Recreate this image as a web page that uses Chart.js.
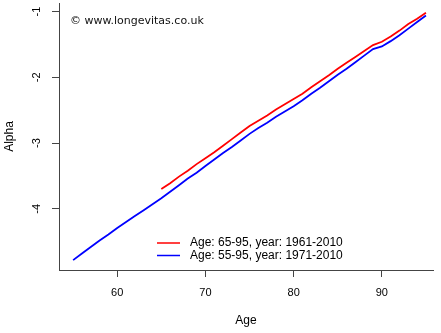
<!DOCTYPE html>
<html>
<head>
<meta charset="utf-8">
<script src="https://cdn.jsdelivr.net/npm/chart.js@4"></script>
<style>
  html, body { margin: 0; padding: 0; background: #fff; }
  #wrap { width: 441px; height: 333px; }
</style>
</head>
<body>
<div id="wrap"><canvas id="chart" width="441" height="333"></canvas></div>
<script>
const agesA = [65, 66, 67, 68, 69, 70, 71, 72, 73, 74, 75, 76, 77, 78, 79, 80,
  81, 82, 83, 84, 85, 86, 87, 88, 89, 90, 91, 92, 93, 94, 95];
const alphaA = [-3.70, -3.61, -3.51, -3.42, -3.32, -3.23, -3.14, -3.04, -2.94, -2.84, -2.74,
  -2.66, -2.58, -2.49, -2.41, -2.33, -2.25, -2.15, -2.06, -1.97, -1.87, -1.78,
  -1.69, -1.60, -1.51, -1.46, -1.38, -1.29, -1.19, -1.11, -1.02];

const agesB = [55, 56, 57, 58, 59, 60, 61, 62, 63, 64, 65, 66, 67, 68, 69, 70, 71, 72, 73, 74, 75,
  76, 77, 78, 79, 80, 81, 82, 83, 84, 85, 86, 87, 88, 89, 90, 91, 92, 93, 94, 95];
const alphaB = [-4.78, -4.68, -4.58, -4.48, -4.39, -4.29, -4.20, -4.11, -4.02, -3.93, -3.84,
  -3.74, -3.64, -3.54, -3.45, -3.35, -3.25, -3.15, -3.06, -2.96, -2.86,
  -2.77, -2.69, -2.60, -2.52, -2.44, -2.35, -2.25, -2.16, -2.06, -1.96, -1.87,
  -1.77, -1.67, -1.57, -1.53, -1.45, -1.36, -1.26, -1.16, -1.06];

const labelA = 'Age: 65-95, year: 1961-2010';
const labelB = 'Age: 55-95, year: 1971-2010';
const xTicks = [60, 70, 80, 90];
const yTicks = [-4, -3, -2, -1];

const axisColor = '#444';
const font = '"Liberation Sans", Arial, sans-serif';

const extras = {
  id: 'extras',
  afterDraw(chart) {
    const ctx = chart.ctx;
    const area = chart.chartArea;
    const y = chart.scales.y;
    ctx.save();
    ctx.fillStyle = '#000';
    // y tick labels, rotated like R
    ctx.font = '11px ' + font;
    ctx.textAlign = 'center';
    ctx.textBaseline = 'middle';
    yTicks.forEach(v => {
      const py = y.getPixelForValue(v);
      ctx.save();
      ctx.translate(37, py);
      ctx.rotate(-Math.PI / 2);
      ctx.fillText(String(v), 0, 0);
      ctx.restore();
    });
    // axis titles
    ctx.font = '12px ' + font;
    ctx.fillText('Age', (area.left + area.right) / 2, 321);
    ctx.save();
    ctx.translate(10, (area.top + area.bottom) / 2);
    ctx.rotate(-Math.PI / 2);
    ctx.fillText('Alpha', 0, 0);
    ctx.restore();
    // copyright
    ctx.textAlign = 'left';
    ctx.fillStyle = '#111';
    ctx.font = '11px "DejaVu Sans", sans-serif';
    ctx.fillText('\u00a9 www.longevitas.co.uk', 70, 21);
    // legend
    ctx.fillStyle = '#000';
    ctx.font = '12px ' + font;
    chart.data.datasets.forEach((ds, i) => {
      const ly = 243 + i * 12.5;
      ctx.strokeStyle = ds.borderColor;
      ctx.lineWidth = 1.5;
      ctx.beginPath();
      ctx.moveTo(157, ly);
      ctx.lineTo(180, ly);
      ctx.stroke();
      ctx.fillText(ds.label, 190, ly);
    });
    ctx.restore();
  }
};

new Chart(document.getElementById('chart'), {
  type: 'line',
  data: {
    datasets: [
      {
        label: labelA,
        data: agesA.map((a, i) => ({ x: a, y: alphaA[i] })),
        borderColor: '#ff0000',
        borderWidth: 1.8,
        pointRadius: 0,
        tension: 0
      },
      {
        label: labelB,
        data: agesB.map((a, i) => ({ x: a, y: alphaB[i] })),
        borderColor: '#0000ff',
        borderWidth: 1.8,
        pointRadius: 0,
        tension: 0
      }
    ]
  },
  options: {
    responsive: false,
    animation: false,
    layout: { padding: { top: 3, right: 8, left: 0, bottom: 0 } },
    plugins: {
      legend: { display: false },
      tooltip: { enabled: false }
    },
    scales: {
      x: {
        type: 'linear',
        min: 53.4,
        max: 95.8,
        afterBuildTicks: s => { s.ticks = xTicks.map(v => ({ value: v })); },
        afterFit: s => { s.height = 63; },
        border: { display: true, color: axisColor, width: 1 },
        grid: { drawOnChartArea: false, drawTicks: true, tickLength: 7, color: axisColor },
        ticks: { color: '#000', padding: 9, font: { size: 11, family: font } }
      },
      y: {
        type: 'linear',
        min: -4.93,
        max: -0.87,
        afterBuildTicks: s => { s.ticks = yTicks.map(v => ({ value: v })); },
        afterFit: s => { s.width = 59; },
        border: { display: true, color: axisColor, width: 1 },
        grid: { drawOnChartArea: false, drawTicks: true, tickLength: 7, color: axisColor },
        ticks: { display: false }
      }
    }
  },
  plugins: [extras]
});
</script>
</body>
</html>
